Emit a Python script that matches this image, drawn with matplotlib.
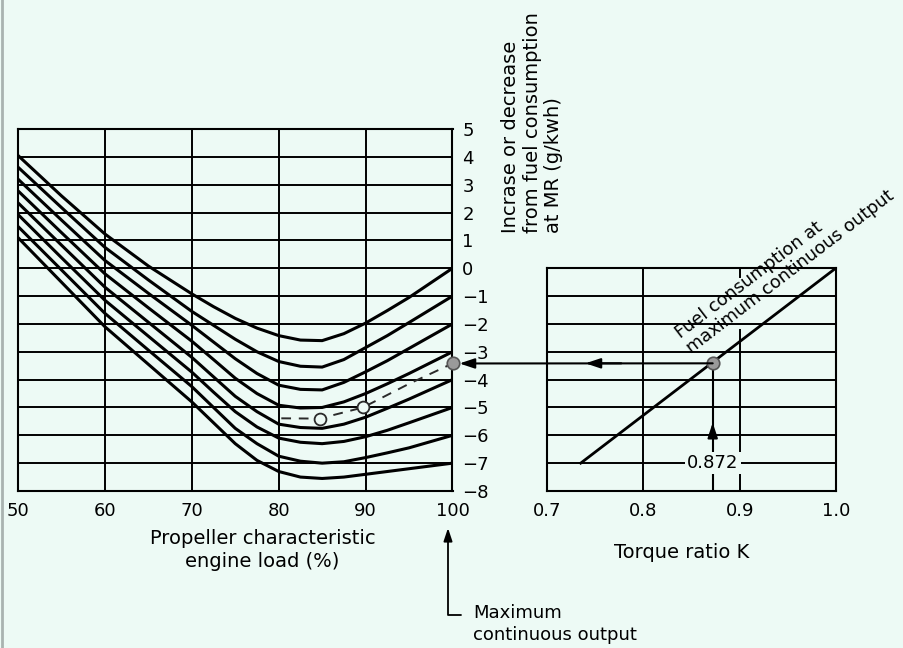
import matplotlib.pyplot as plt
from matplotlib.patches import ConnectionPatch
from matplotlib.lines import Line2D

# engine load (%) where the curves were read
load = [50, 55, 60, 65, 70, 72.5, 75, 77.5, 80, 82.5, 85, 87.5, 90, 92.5, 95, 100]

# fuel consumption change (g/kWh), one curve per torque ratio
curve1 = [4.05, 2.60, 1.23, 0.08, -0.92, -1.38, -1.80, -2.15, -2.42, -2.58, -2.60, -2.35, -1.97, -1.52, -1.05, 0.0]
curve2 = [3.63, 2.18, 0.75, -0.42, -1.55, -2.05, -2.55, -3.00, -3.35, -3.52, -3.55, -3.28, -2.85, -2.42, -1.95, -1.0]
curve3 = [3.20, 1.73, 0.28, -0.90, -2.05, -2.65, -3.25, -3.78, -4.20, -4.35, -4.37, -4.10, -3.72, -3.32, -2.88, -2.0]
curve4 = [2.78, 1.28, -0.20, -1.42, -2.62, -3.28, -3.95, -4.50, -4.92, -5.02, -5.00, -4.80, -4.50, -4.15, -3.78, -3.0]
curve5 = [2.35, 0.83, -0.68, -1.94, -3.20, -3.90, -4.60, -5.15, -5.60, -5.72, -5.75, -5.60, -5.35, -5.03, -4.70, -4.0]
curve6 = [1.93, 0.38, -1.15, -2.44, -3.73, -4.45, -5.15, -5.70, -6.10, -6.25, -6.30, -6.22, -6.05, -5.82, -5.55, -5.0]
curve7 = [1.50, -0.06, -1.62, -2.94, -4.25, -5.00, -5.75, -6.30, -6.75, -6.93, -7.00, -6.95, -6.80, -6.63, -6.45, -6.0]
curve8 = [1.10, -0.50, -2.10, -3.45, -4.80, -5.55, -6.30, -6.90, -7.30, -7.50, -7.55, -7.50, -7.40, -7.30, -7.20, -7.0]
curves = [curve1, curve2, curve3, curve4, curve5, curve6, curve7, curve8]

# dashed operating line with its two circles
dash_load = [80.3, 84.7, 89.7, 95, 100]
dash_fuel = [-5.39, -5.40, -5.00, -4.15, -3.42]
circle_load = [84.7, 89.7]
circle_fuel = [-5.40, -5.00]

# torque ratio line (right panel)
torque_k = [0.735, 1.0]
torque_fuel = [-7.0, 0.0]
k_point = 0.872
fuel_point = -3.42

bg = '#EDFAF5'
plt.rcParams['font.family'] = ['DejaVu Sans']

W, H = 904, 648
fig = plt.figure(figsize=(W / 100, H / 100), dpi=100, facecolor=bg)
ax1 = fig.add_axes([18 / W, 1 - 491 / H, (452.5 - 18) / W, (491 - 129) / H])
ax2 = fig.add_axes([547 / W, 1 - 491 / H, (836 - 547) / W, (491 - 268) / H])

for ax in (ax1, ax2):
    ax.set_facecolor(bg)
    for s in ax.spines.values():
        s.set_linewidth(1.5)
        s.set_color('black')
    ax.tick_params(length=0, labelsize=13, pad=8)

# left panel
ax1.set_xlim(50, 100)
ax1.set_ylim(-8, 5)
ax1.set_xticks(range(50, 101, 10))
ax1.set_yticks(range(-8, 6))
ax1.yaxis.tick_right()
ax1.tick_params(axis='y', pad=7)
ax1.grid(True, color='black', lw=1.4)

for c in curves:
    ax1.plot(load, c, color='black', lw=2.2, zorder=3, solid_joinstyle='round')

ax1.plot(dash_load, dash_fuel, color='#2a2a2a', lw=1.4, ls=(0, (5, 4)), zorder=4)
ax1.plot(circle_load, circle_fuel, 'o', ms=8.5, mfc=bg, mec='#2a2a2a', mew=1.3, zorder=5)
ax1.plot([100], [fuel_point], 'o', ms=9, mfc='#9a9a9a', mec='#555555', mew=1.2,
         clip_on=False, zorder=6)

# right panel
ax2.set_xlim(0.7, 1.0)
ax2.set_ylim(-8, 0)
ax2.set_xticks([0.7, 0.8, 0.9, 1.0])
ax2.set_xticklabels(['0.7', '0.8', '0.9', '1.0'])
ax2.set_yticks(range(-8, 1))
ax2.set_yticklabels([])
ax2.grid(True, axis='y', color='black', lw=1.4)
ax2.plot([0.8, 0.8], [-8, 0], color='black', lw=1.4, zorder=1.5)
ax2.plot([0.9, 0.9], [-8, -2.22], color='black', lw=1.4, zorder=1.5)
ax2.plot([0.9, 0.9], [-0.32, 0], color='black', lw=1.4, zorder=1.5)

ax2.plot(torque_k, torque_fuel, color='black', lw=2.0, zorder=3)
ax2.plot([k_point, k_point], [-8, fuel_point], color='black', lw=1.5, zorder=2)
ax2.plot([k_point], [fuel_point], 'o', ms=9, mfc='#9a9a9a', mec='#555555', mew=1.2, zorder=6)

ax2.text(k_point, -7, '0.872', ha='center', va='center', fontsize=13, zorder=4,
         bbox=dict(facecolor=bg, edgecolor='none', pad=1.5))

head = '-|>,head_length=0.6,head_width=0.2'
ax2.annotate('', xy=(k_point, -5.45), xytext=(k_point, -6.1),
             arrowprops=dict(arrowstyle=head, color='black', lw=1.5, mutation_scale=15))
ax2.annotate('', xy=(0.737, fuel_point), xytext=(0.78, fuel_point),
             arrowprops=dict(arrowstyle=head, color='black', lw=1.5, mutation_scale=15))
con = ConnectionPatch(xyA=(k_point, fuel_point), coordsA=ax2.transData,
                      xyB=(100, fuel_point), coordsB=ax1.transData,
                      arrowstyle=head, mutation_scale=15, lw=1.5, color='black',
                      shrinkA=0, shrinkB=5, zorder=5)
fig.add_artist(con)

ax2.text(0.853, -3.2, 'Fuel consumption at\nmaximum continuous output',
         rotation=37.5, rotation_mode='anchor', ha='left', va='bottom',
         fontsize=12.8, linespacing=1.1, clip_on=False, zorder=4)

# axis titles
fig.text(262.5 / W, 1 - 550 / H, 'Propeller characteristic\nengine load (%)',
         ha='center', va='center', fontsize=14, linespacing=1.3)
fig.text(682 / W, 1 - 553 / H, 'Torque ratio K', ha='center', va='center', fontsize=14)
fig.text(532 / W, 1 - 233 / H, 'Incrase or decrease\nfrom fuel consumption\nat MR (g/kwh)',
         rotation=90, ha='center', va='bottom', multialignment='left',
         fontsize=14, linespacing=1.15)

# maximum continuous output pointer
ax1.annotate('', xy=(448, H - 528), xycoords='figure pixels',
             xytext=(461, H - 615), textcoords='figure pixels',
             arrowprops=dict(arrowstyle=head, color='black', lw=1.3, mutation_scale=13,
                             shrinkA=0, shrinkB=0,
                             connectionstyle='angle,angleA=180,angleB=90,rad=0'))
fig.text(473 / W, 1 - 624 / H, 'Maximum\ncontinuous output', ha='left', va='center',
         fontsize=13, linespacing=1.25)

fig.add_artist(Line2D([0.002, 0.002], [0, 1], color='#a9b3b0', lw=2))

fig.savefig('out.png', dpi=100, facecolor=bg)
